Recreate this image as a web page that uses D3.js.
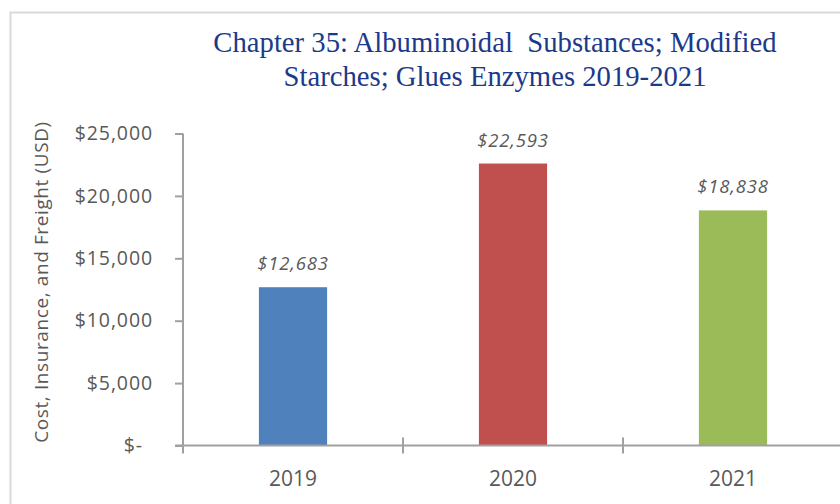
<!DOCTYPE html>
<html>
<head>
<meta charset="utf-8">
<script src="https://cdn.jsdelivr.net/npm/d3@7"></script>
<style>
  html, body { margin: 0; padding: 0; background: #fff; }
  svg { display: block; }
</style>
</head>
<body>
<svg id="chart" width="840" height="504"></svg>
<script>
const categories = ["2019", "2020", "2021"];
const values = [12683, 22593, 18838];
const colors = ["#4f81bd", "#c0504d", "#9bbb59"];
const yTicks = [0, 5000, 10000, 15000, 20000, 25000];
const titleLines = ["Chapter 35: Albuminoidal  Substances; Modified", "Starches; Glues Enzymes 2019-2021"];
const yTitle = "Cost, Insurance, and Freight (USD)";

const svg = d3.select("#chart");
const sans = "'Open Sans', 'Noto Sans', sans-serif";
const textGray = "#595959";
const axisGray = "#a0a0a0";

// outer frame
svg.append("rect").attr("x", 10.5).attr("y", 12.5).attr("width", 900).attr("height", 600)
  .attr("fill", "none").attr("stroke", "#d9d9d9").attr("stroke-width", 2);

const x = d3.scaleBand().domain(categories).range([183, 843]).paddingInner(0.69).paddingOuter(0.345);
const y = d3.scaleLinear().domain([0, 25000]).range([445.5, 133.5]);

// title
const title = svg.append("text").attr("text-anchor", "middle")
  .attr("font-family", "'Liberation Serif', 'Times New Roman', serif")
  .attr("font-size", 28.7).attr("fill", "#1c3a8a").style("white-space", "pre");
titleLines.forEach((t, i) => {
  title.append("tspan").attr("x", 495).attr("y", 52 + i * 34).text(t);
});

// bars
svg.append("g").selectAll("rect").data(values).join("rect")
  .attr("x", (d, i) => x(categories[i]))
  .attr("y", d => y(d))
  .attr("width", x.bandwidth())
  .attr("height", d => y(0) - y(d))
  .attr("fill", (d, i) => colors[i]);

// data labels
const fmt = d3.format(",");
svg.append("g").selectAll("text").data(values).join("text")
  .attr("x", (d, i) => x(categories[i]) + x.bandwidth() / 2)
  .attr("y", d => y(d) - 17)
  .attr("text-anchor", "middle")
  .attr("font-family", sans).attr("font-style", "italic").attr("font-size", 18.5)
  .attr("letter-spacing", 0.8)
  .attr("fill", textGray)
  .text(d => "$" + fmt(d));

// y axis
const yAxis = d3.axisLeft(y).tickValues(yTicks).tickSize(8).tickSizeOuter(0)
  .tickFormat(d => d === 0 ? "$-" : "$" + fmt(d));
const gy = svg.append("g").attr("transform", "translate(183,0)").call(yAxis);
gy.select(".domain").attr("stroke", axisGray).attr("stroke-width", 2)
  .attr("d", `M0,${y(25000)}V${y(0) + 8}`);
gy.selectAll(".tick line").attr("stroke", axisGray).attr("stroke-width", 2);
gy.selectAll(".tick text").attr("font-family", sans).attr("font-size", 19.5)
  .attr("letter-spacing", 0.9).attr("fill", textGray).attr("x", -30)
  .attr("dx", d => d === 0 ? -10 : 0);

// x axis
const step = x.step();
const boundaries = categories.map(c => x(c) - (step - x.bandwidth()) / 2);
const gx = svg.append("g");
gx.append("line").attr("x1", 175).attr("x2", 840).attr("y1", y(0)).attr("y2", y(0))
  .attr("stroke", axisGray).attr("stroke-width", 2);
gx.selectAll("line.tk").data(boundaries.slice(1)).join("line").attr("class", "tk")
  .attr("x1", d => d).attr("x2", d => d).attr("y1", y(0) - 8).attr("y2", y(0) + 8)
  .attr("stroke", axisGray).attr("stroke-width", 2);
gx.selectAll("text").data(categories).join("text")
  .attr("x", d => x(d) + x.bandwidth() / 2).attr("y", 486)
  .attr("text-anchor", "middle").attr("font-family", sans).attr("font-size", 21)
  .attr("fill", textGray).text(d => d);

// y title
svg.append("text")
  .attr("transform", `translate(48,282) rotate(-90)`)
  .attr("text-anchor", "middle").attr("font-family", sans).attr("font-size", 19)
  .attr("letter-spacing", 0.6)
  .attr("fill", textGray).text(yTitle);
</script>
</body>
</html>
